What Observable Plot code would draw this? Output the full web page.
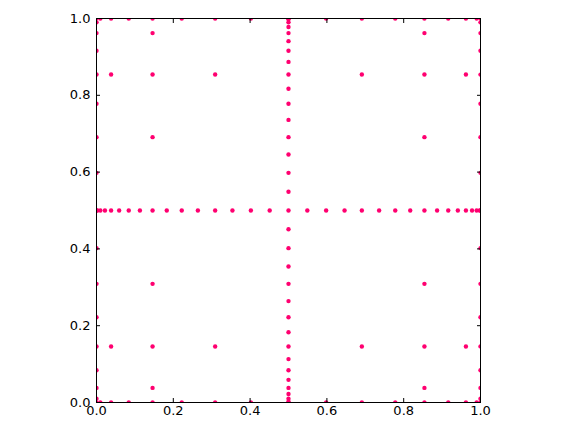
<!DOCTYPE html>
<html>
<head>
<meta charset="utf-8">
<script src="https://cdn.jsdelivr.net/npm/d3@7"></script>
<script src="https://cdn.jsdelivr.net/npm/@observablehq/plot@0.6"></script>
<style>
  html, body { margin: 0; padding: 0; background: #ffffff; }
  #chart { width: 576px; height: 432px; }
</style>
</head>
<body>
<div id="chart"></div>
<script>
// Node positions per refinement level
const nodesLevel0 = [0.5];
const nodesLevel1 = [0.0, 1.0];
const nodesLevel2 = [0.146, 0.854];
const nodesLevel3 = [0.038, 0.309, 0.691, 0.962];
const nodesLevel4 = [0.010, 0.084, 0.222, 0.402, 0.598, 0.778, 0.916, 0.990];
const nodesLevel5 = [0.002, 0.022, 0.059, 0.113, 0.183, 0.264, 0.354, 0.451,
                     0.549, 0.646, 0.736, 0.817, 0.887, 0.941, 0.978, 0.998];
// For each x level (0..5), the highest y level that appears with it
const maxYLevelForXLevel = [5, 4, 3, 2, 1, 0];

const xTicks = [0.0, 0.2, 0.4, 0.6, 0.8, 1.0];
const yTicks = [0.0, 0.2, 0.4, 0.6, 0.8, 1.0];

const levels = [nodesLevel0, nodesLevel1, nodesLevel2, nodesLevel3, nodesLevel4, nodesLevel5];
const points = [];
maxYLevelForXLevel.forEach((maxY, lx) => {
  for (let ly = 0; ly <= maxY; ly++) {
    for (const x of levels[lx]) for (const y of levels[ly]) points.push({x, y});
  }
});

const pink = "#ff0070";
const fmt = d => d.toFixed(1);

const plot = Plot.plot({
  width: 576,
  height: 432,
  marginLeft: 96,
  marginRight: 96,
  marginTop: 18,
  marginBottom: 30,
  style: {fontFamily: "'DejaVu Sans', sans-serif", fontSize: "13px", color: "#000", background: "#fff"},
  x: {domain: [0, 1]},
  y: {domain: [0, 1]},
  marks: [
    Plot.dot(points, {x: "x", y: "y", r: 2.2, fill: pink, stroke: null, clip: true}),
    Plot.frame({stroke: "#000", strokeWidth: 1}),
    Plot.axisX(xTicks, {anchor: "bottom", tickSize: 0, tickPadding: 3, tickFormat: fmt, fill: "#000", fontSize: 13, label: null}),
    Plot.axisY(yTicks, {anchor: "left", tickSize: 0, tickPadding: 6, tickFormat: fmt, fill: "#000", fontSize: 13, label: null}),
    Plot.axisX(xTicks, {anchor: "bottom", tickSize: -4, tickFormat: () => "", label: null}),
    Plot.axisX(xTicks, {anchor: "top", tickSize: -4, tickFormat: () => "", label: null}),
    Plot.axisY(yTicks, {anchor: "left", tickSize: -4, tickFormat: () => "", label: null}),
    Plot.axisY(yTicks, {anchor: "right", tickSize: -4, tickFormat: () => "", label: null})
  ]
});
document.getElementById("chart").appendChild(plot);
</script>
</body>
</html>
